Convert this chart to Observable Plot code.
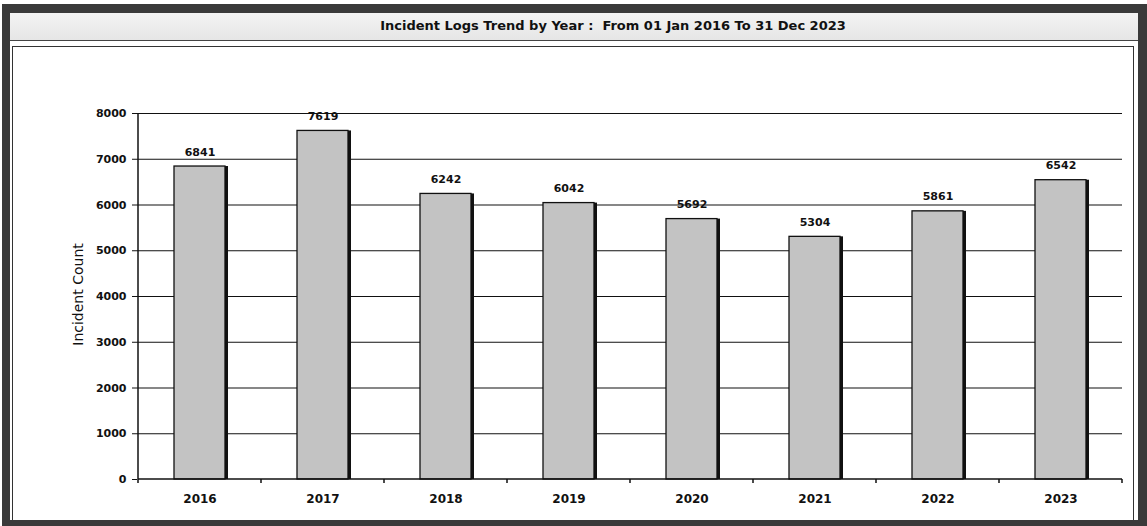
<!DOCTYPE html>
<html><head><meta charset="utf-8">
<script src="https://cdn.jsdelivr.net/npm/d3@7"></script>
<script src="https://cdn.jsdelivr.net/npm/@observablehq/plot@0.6"></script>
<style>
html,body{margin:0;padding:0;background:#fff;width:1147px;height:526px;overflow:hidden}
#frame{position:absolute;left:2px;top:4px;width:1145px;height:522px;box-sizing:border-box;border:solid #3a3a3a;border-width:9px 9px 6px 8px;background:#fff}
#title{position:absolute;left:0;right:0;top:0;height:28px;box-sizing:border-box;background:linear-gradient(#f3f3f3,#e6e6e6);border-bottom:1px solid #444;font:bold 13px "DejaVu Sans",sans-serif;color:#111;line-height:26px;text-align:center;padding-left:78px;white-space:pre}
#inner{position:absolute;left:2px;right:4px;top:33px;bottom:0;box-sizing:border-box;border:1.5px solid #333;border-bottom:none;background:#fff}
#chart{position:absolute;left:0;top:50px}
</style></head>
<body>
<div id="frame"><div id="title"></div><div id="inner"></div></div>
<div id="chart"></div>
<script>
const titleText = "Incident Logs Trend by Year :  From 01 Jan 2016 To 31 Dec 2023";
const years = ["2016","2017","2018","2019","2020","2021","2022","2023"];
const counts = [6841, 7619, 6242, 6042, 5692, 5304, 5861, 6542];
const yTicks = [0,1000,2000,3000,4000,5000,6000,7000,8000];
const yLabel = "Incident Count";

document.getElementById("title").textContent = titleText;
const data = years.map((year, i) => ({year, value: counts[i]}));

// axis line + boundary ticks under categories
const boundaryMarks = (index, scales, values, dimensions) => {
  const x = scales.x, y = scales.y;
  const step = x(years[1]) - x(years[0]);
  const g = d3.create("svg:g").attr("stroke", "#111").attr("fill", "none");
  const x0 = x(years[0]);
  g.append("line").attr("x1", x0).attr("x2", x0).attr("y1", y(0)).attr("y2", y(8000)).attr("stroke-width", 1.5);
  g.append("line").attr("x1", x0).attr("x2", x0 + step * years.length).attr("y1", y(0)).attr("y2", y(0)).attr("stroke-width", 1.5);
  for (let i = 0; i <= years.length; i++) {
    const xx = x0 + step * i;
    g.append("line").attr("x1", xx).attr("x2", xx).attr("y1", y(0)).attr("y2", y(0) + 4).attr("stroke-width", 1.5);
  }
  return g.node();
};

const chart = Plot.plot({
  width: 1147,
  height: 468,
  marginTop: 63,
  marginBottom: 39,
  marginLeft: 137,
  marginRight: 25,
  style: {fontFamily: "DejaVu Sans, sans-serif", background: "transparent", color: "#111"},
  x: {type: "band", domain: years, padding: 0},
  y: {domain: [0, 8000]},
  marks: [
    Plot.gridY(yTicks.filter(d => d > 0), {stroke: "#111", strokeOpacity: 1, strokeWidth: 1.2}),
    Plot.barY(data, {x: "year", y: "value", fill: "#111", insetLeft: 36, insetRight: 33}),
    Plot.barY(data, {x: "year", y: "value", fill: "#c3c3c3", stroke: "#111", strokeWidth: 1.3, insetLeft: 36, insetRight: 36}),
    boundaryMarks,
    Plot.text(data, {x: "year", y: "value", text: d => String(d.value), dy: -11, lineAnchor: "bottom", fontSize: 11, fontWeight: "bold", fill: "#111"}),
    Plot.axisY({ticks: yTicks, tickSize: 5, tickPadding: 6, label: null, fontSize: 11, fontWeight: "bold", tickFormat: d => String(d)}),
    Plot.axisX({tickSize: 0, tickPadding: 15, label: null, fontSize: 12, fontWeight: "bold"}),
    Plot.text([yLabel], {frameAnchor: "left", textAnchor: "middle", rotate: -90, dx: -59, dy: -2, fontSize: 14, fontWeight: "normal", fill: "#111"})
  ]
});
document.getElementById("chart").appendChild(chart);
</script>
</body></html>
